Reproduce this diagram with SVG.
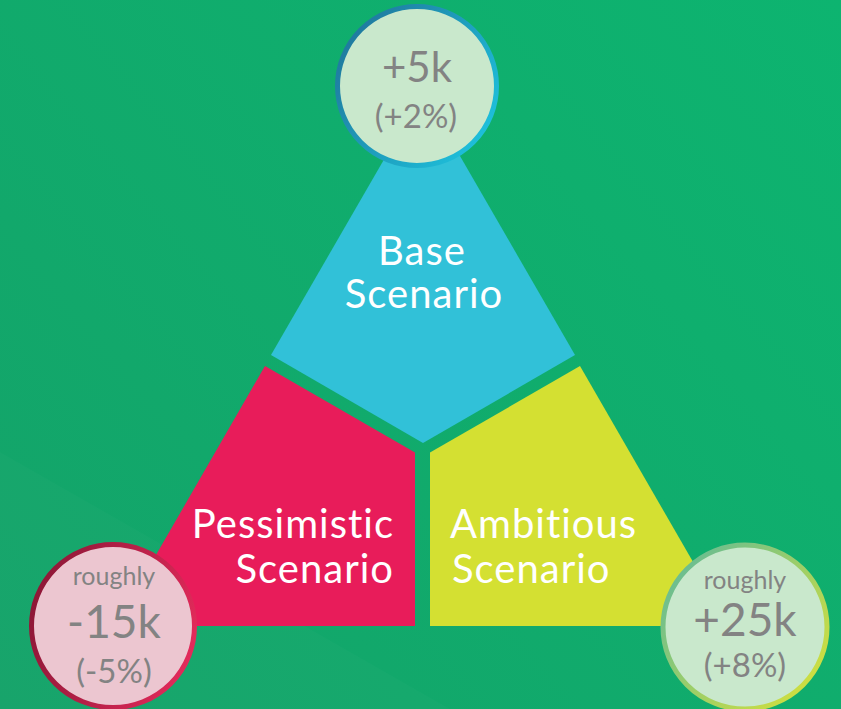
<svg xmlns="http://www.w3.org/2000/svg" width="841" height="709" viewBox="0 0 841 709">
<defs>
<linearGradient id="bg" x1="841" y1="0" x2="0" y2="709" gradientUnits="userSpaceOnUse">
<stop offset="0" stop-color="#0db470"/>
<stop offset="1" stop-color="#14a369"/>
</linearGradient>
<linearGradient id="gTop" x1="340" y1="20" x2="500" y2="130" gradientUnits="userSpaceOnUse">
<stop offset="0" stop-color="#1f7499"/>
<stop offset="1" stop-color="#1ec3de"/>
</linearGradient>
<linearGradient id="gLeft" x1="30" y1="600" x2="200" y2="650" gradientUnits="userSpaceOnUse">
<stop offset="0" stop-color="#8c1736"/>
<stop offset="1" stop-color="#e62b5c"/>
</linearGradient>
<linearGradient id="gRight" x1="670" y1="560" x2="820" y2="690" gradientUnits="userSpaceOnUse">
<stop offset="0" stop-color="#64bb96"/>
<stop offset="1" stop-color="#d3e03c"/>
</linearGradient>
<style>
text{font-variant-ligatures:none}
.lbl{font-family:Lato,"Open Sans","Liberation Sans",sans-serif;fill:#ffffff;font-size:40px;letter-spacing:1px}
.num{font-family:Lato,"Open Sans","Liberation Sans",sans-serif;fill:#838383;text-anchor:middle}
.bub{stroke-width:5}
</style>
</defs>
<rect x="0" y="0" width="841" height="709" fill="url(#bg)"/>
<polygon points="0,452 450,709 0,709" fill="#ffffff" opacity="0.02"/>
<g id="connectors"/>
<g id="base">
<polygon points="423,92 575,355 423,443 271,355" fill="#31c1d8"/>
<text class="lbl" x="422" y="265" text-anchor="middle">Base</text>
<text class="lbl" x="424" y="308" text-anchor="middle">Scenario</text>
</g>
<g id="pessimistic">
<polygon points="265,366 415,452.6 415,626 115,626" fill="#e81c5a"/>
<text class="lbl" x="394" y="538" text-anchor="end">Pessimistic</text>
<text class="lbl" x="394" y="583" text-anchor="end">Scenario</text>
</g>
<g id="ambitious">
<polygon points="580,366 430,452.6 430,626 730,626" fill="#d4e032"/>
<text class="lbl" x="450" y="538">Ambitious</text>
<text class="lbl" x="452" y="583">Scenario</text>
</g>
<g id="base-value">
<circle class="bub" cx="417" cy="86" r="79.5" fill="#c9e8cc" stroke="url(#gTop)"/>
<text class="num" x="417" y="82" font-size="42">+5k</text>
<text class="num" x="416" y="128" font-size="33">(+2%)</text>
</g>
<g id="pessimistic-value">
<circle class="bub" cx="113" cy="626" r="81.5" fill="#ecc6d0" stroke="url(#gLeft)"/>
<text class="num" x="114" y="585" font-size="25">roughly</text>
<text class="num" x="114" y="638" font-size="46">-15k</text>
<text class="num" x="114" y="683" font-size="33">(-5%)</text>
</g>
<g id="ambitious-value">
<circle class="bub" cx="745" cy="627" r="82" fill="#c9e8cc" stroke="url(#gRight)"/>
<text class="num" x="745" y="589" font-size="25">roughly</text>
<text class="num" x="745" y="636" font-size="46">+25k</text>
<text class="num" x="745" y="677" font-size="33">(+8%)</text>
</g>
</svg>
